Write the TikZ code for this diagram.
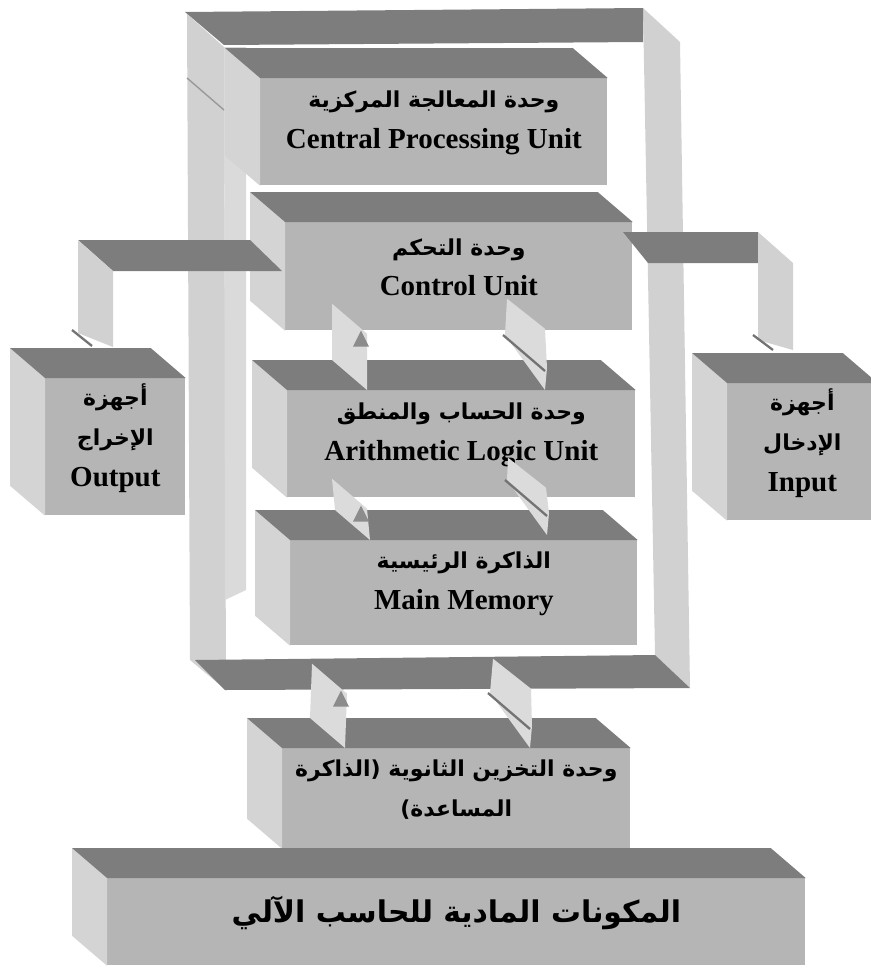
\documentclass[tikz,border=0pt]{standalone}
\usepackage{fontspec}
\setmainfont{Liberation Serif}
\newfontfamily\arabicfont[Script=Arabic]{DejaVu Sans}
\TeXXeTstate=1
\usetikzlibrary{calc}

\definecolor{facefront}{gray}{0.71}
\definecolor{facetop}{gray}{0.49}
\definecolor{faceside}{gray}{0.83}
\definecolor{railcol}{gray}{0.82}
\definecolor{platecol}{gray}{0.86}

\newcommand{\artxt}[1]{{\arabicfont\fontsize{12.5}{23}\selectfont\beginR #1\endR}}

\tikzset{
  front/.style={fill=facefront, inner sep=0pt, anchor=north west},
  lbl/.style={inner sep=0pt, align=center, font=\bfseries\fontsize{16.5}{23}\selectfont},
  topface/.style={fill=facetop},
  sideface/.style={fill=faceside},
  rail/.style={fill=railcol},
  plate/.style={fill=platecol},
  tip/.style={fill=black!45},
  edgeline/.style={draw=black!55, line width=1.3pt},
}

% box: name, x, y, width, height, text
\newcommand{\cube}[6]{%
  \node[front, minimum width=#4*0.02cm, minimum height=#5*0.02cm] (#1) at (#2,#3) {};
  \fill[sideface] (#1.north west) -- ++(-35,-30) -- ($(#1.south west)+(-35,-30)$) -- (#1.south west) -- cycle;
  \fill[topface] (#1.north west) -- ++(-35,-30) -- ($(#1.north east)+(-35,-30)$) -- (#1.north east) -- cycle;
  \node[lbl] (#1 text) at ($(#1.center)+(0,-9)$) {#6};
}
% flat arrows: top point, bottom point
\newcommand{\uparr}[2]{%
  \path #1 coordinate (pa) #2 coordinate (pb);
  \fill[plate] (pa) -- ++(35,30) -- (pb) -- ++(-35,-30) -- cycle;
  \fill[tip] ($(pa)+(29,27)$) -- ($(pa)+(21,43)$) -- ($(pa)+(37,43)$) -- cycle;
}
\newcommand{\dnarr}[2]{%
  \path #1 coordinate (pa) #2 coordinate (pb);
  \fill[plate] (pa) -- ++(38,30) -- ($(pb)+(2,-22)$) -- (pb) -- ($(pb)+(-40,-55)$) -- cycle;
  \draw[edgeline] ($(pb)+(-42,-55)$) -- ($(pb)+(0,-19)$);
}

\begin{document}
\begin{tikzpicture}[x=0.02cm, y=-0.02cm]
\useasboundingbox (0,0) rectangle (871,970);

% outer frame
\fill[rail] (187,14) -- (224,47) -- (226,690) -- (190,660) -- cycle;
\fill[faceside!85!white] (224,47) -- (246,47) -- (246,590) -- (225,600) -- cycle;
\draw[black!40, line width=0.8pt] (187,78) -- (224,110);
\fill[rail] (643,8) -- (680,42) -- (690,688) -- (655,655) -- cycle;
\fill[topface] (185,12) -- (643,8) -- (643,42) -- (224,45) -- cycle;
\fill[topface] (195,660) -- (655,655) -- (690,688) -- (225,690) -- cycle;

% units
\cube{cpu}{260}{78}{347}{107}{\artxt{وحدة المعالجة المركزية}\\Central Processing Unit}
\cube{cu}{285}{222}{347}{108}{\artxt{وحدة التحكم}\\Control Unit}
\cube{alu}{287}{390}{348}{107}{\artxt{وحدة الحساب والمنطق}\\Arithmetic Logic Unit}
\cube{mm}{290}{540}{347}{105}{\artxt{الذاكرة الرئيسية}\\Main Memory}
\cube{out}{45}{378}{140}{137}{\artxt{أجهزة}\\\artxt{الإخراج}\\Output}
\cube{in}{727}{383}{150}{137}{\artxt{أجهزة}\\\artxt{الإدخال}\\Input}
\cube{sec}{282}{748}{348}{100}{\artxt{وحدة التخزين الثانوية (الذاكرة}\\\artxt{المساعدة)}}
\cube{base}{107}{878}{698}{87}{{\arabicfont\fontsize{17}{22}\selectfont\beginR المكونات المادية للحاسب الآلي\endR}}

% links to output and input
\fill[topface] (78,240) -- (250,240) -- (282,271) -- (113,271) -- cycle;
\fill[rail] (78,240) -- (113,271) -- (113,347) -- (78,333) -- cycle;
\draw[edgeline] (out.north west) ++(27,-48) -- ++(20,16);
\fill[topface] (623,232) -- (758,232) -- (758,263) -- (648,263) -- cycle;
\fill[rail] (758,232) -- (793,263) -- (793,350) -- (758,340) -- cycle;
\draw[edgeline] (in.north west) ++(26,-48) -- ++(20,15);

% data paths
\uparr{($(cu.south west)+(47,-27)$)}{($(alu.north west)+(80,0)$)}
\dnarr{($(cu.south west)+(222,-32)$)}{($(alu.north west)+(258,0)$)}
\uparr{($(alu.south west)+(45,-19)$)}{($(mm.north west)+(80,0)$)}
\dnarr{($(alu.south west)+(221,-40)$)}{($(mm.north west)+(257,-5)$)}
\uparr{($(mm.south west)+(22,18)$)}{($(sec.north west)+(63,0)$)}
\dnarr{($(mm.south west)+(203,13)$)}{($(sec.north west)+(248,0)$)}
\end{tikzpicture}
\end{document}
